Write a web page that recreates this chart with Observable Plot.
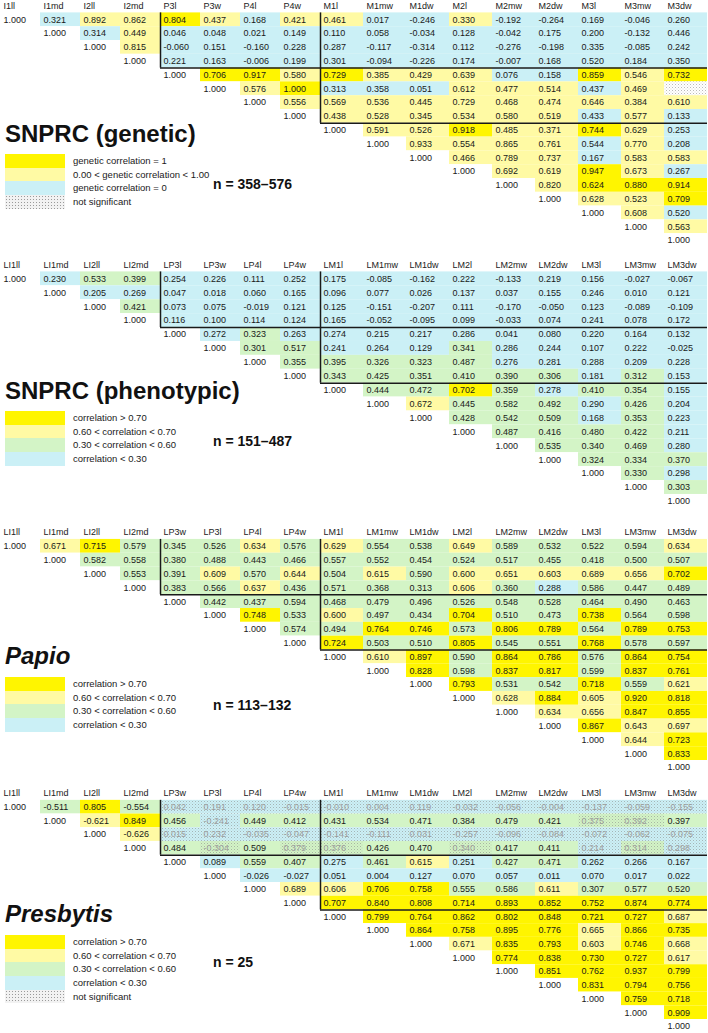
<!DOCTYPE html>
<html><head><meta charset="utf-8">
<script src="https://cdn.jsdelivr.net/npm/d3@7"></script>
<script src="https://cdn.jsdelivr.net/npm/@observablehq/plot@0.6"></script>
<style>
body{margin:0;background:#fff;font-family:Arial,"Liberation Sans",sans-serif;width:708px;height:1033px;overflow:hidden}
.panel{position:relative;width:708px;overflow:hidden}
.panel svg{display:block}
.title{position:absolute;left:5px;font-weight:bold;font-size:24px;color:#111;transform:translateY(-50%);white-space:nowrap;line-height:1}
.nlab{position:absolute;font-weight:bold;font-size:14px;color:#111;transform:translateY(-50%);white-space:nowrap;line-height:1}
.sw{position:absolute;left:5px;width:60px}
.lt{position:absolute;left:73px;font-size:9.5px;color:#1a1a1a;transform:translateY(-50%);white-space:nowrap;line-height:1}
.dots{background-color:#f2f2f2;background-image:radial-gradient(#9a9a9a 0.7px,transparent 0.9px);background-size:3px 3px}
</style></head><body><div id="chart"></div><script>
// ---------- data ----------
const genCols = ["I1ll","I1md","I2ll","I2md","P3l","P3w","P4l","P4w","M1l","M1mw","M1dw","M2l","M2mw","M2dw","M3l","M3mw","M3dw"];
const phenCols = ["LI1ll","LI1md","LI2ll","LI2md","LP3l","LP3w","LP4l","LP4w","LM1l","LM1mw","LM1dw","LM2l","LM2mw","LM2dw","LM3l","LM3mw","LM3dw"];
const primCols = ["LI1ll","LI1md","LI2ll","LI2md","LP3w","LP3l","LP4l","LP4w","LM1l","LM1mw","LM1dw","LM2l","LM2mw","LM2dw","LM3l","LM3mw","LM3dw"];

// SNPRC genetic (upper triangle, row by row; null = not significant)
const genValues = [
 [0.321,0.892,0.862,0.804,0.437,0.168,0.421,0.461,0.017,-0.246,0.330,-0.192,-0.264,0.169,-0.046,0.260],
 [0.314,0.449,0.046,0.048,0.021,0.149,0.110,0.058,-0.034,0.128,-0.042,0.175,0.200,-0.132,0.446],
 [0.815,-0.060,0.151,-0.160,0.228,0.287,-0.117,-0.314,0.112,-0.276,-0.198,0.335,-0.085,0.242],
 [0.221,0.163,-0.006,0.199,0.301,-0.094,-0.226,0.174,-0.007,0.168,0.520,0.184,0.350],
 [0.706,0.917,0.580,0.729,0.385,0.429,0.639,0.076,0.158,0.859,0.546,0.732],
 [0.576,1.000,0.313,0.358,0.051,0.612,0.477,0.514,0.437,0.469,null],
 [0.556,0.569,0.536,0.445,0.729,0.468,0.474,0.646,0.384,0.610],
 [0.438,0.528,0.345,0.534,0.580,0.519,0.433,0.577,0.133],
 [0.591,0.526,0.918,0.485,0.371,0.744,0.629,0.253],
 [0.933,0.554,0.865,0.761,0.544,0.770,0.208],
 [0.466,0.789,0.737,0.167,0.583,0.583],
 [0.692,0.619,0.947,0.673,0.267],
 [0.820,0.624,0.880,0.914],
 [0.628,0.523,0.709],
 [0.608,0.520],
 [0.563]
];
// categories: Y = genetic correlation 1, L = between 0 and 1, B = genetic correlation 0, N = not significant
const genCategories = [
 "BLLYLBLLBBLBBBBB",
 "BLBBBBBBBBBBBBB",
 "LBBBBBBBBBBBBB",
 "BBBBBBBBBBBBB",
 "YYLYLLLBBYLY",
 "LYBBBLLLBLN",
 "LLLLLLLLLL",
 "LLLLLLBLB",
 "LLYLLYLB",
 "LLLLBLB",
 "LLLBLL",
 "LLYLB",
 "LYYY",
 "LLY",
 "LB",
 "L"
];

const phenValues = [
 [0.230,0.533,0.399,0.254,0.226,0.111,0.252,0.175,-0.085,-0.162,0.222,-0.133,0.219,0.156,-0.027,-0.067],
 [0.205,0.269,0.047,0.018,0.060,0.165,0.096,0.077,0.026,0.137,0.037,0.155,0.246,0.010,0.121],
 [0.421,0.073,0.075,-0.019,0.121,0.125,-0.151,-0.207,0.111,-0.170,-0.050,0.123,-0.089,-0.109],
 [0.116,0.100,0.114,0.124,0.165,-0.052,-0.095,0.099,-0.033,0.074,0.241,0.078,0.172],
 [0.272,0.323,0.263,0.274,0.215,0.217,0.286,0.041,0.080,0.220,0.164,0.132],
 [0.301,0.517,0.241,0.264,0.129,0.341,0.286,0.244,0.107,0.222,-0.025],
 [0.355,0.395,0.326,0.323,0.487,0.276,0.281,0.288,0.209,0.228],
 [0.343,0.425,0.351,0.410,0.390,0.306,0.181,0.312,0.153],
 [0.444,0.472,0.702,0.359,0.278,0.410,0.354,0.155],
 [0.672,0.445,0.582,0.492,0.290,0.426,0.204],
 [0.428,0.542,0.509,0.168,0.353,0.223],
 [0.487,0.416,0.480,0.422,0.211],
 [0.535,0.340,0.469,0.280],
 [0.324,0.334,0.370],
 [0.330,0.298],
 [0.303]
];

const papioValues = [
 [0.671,0.715,0.579,0.345,0.526,0.634,0.576,0.629,0.554,0.538,0.649,0.589,0.532,0.522,0.594,0.634],
 [0.582,0.558,0.380,0.488,0.443,0.466,0.557,0.552,0.454,0.524,0.517,0.455,0.418,0.500,0.507],
 [0.553,0.391,0.609,0.570,0.644,0.504,0.615,0.590,0.600,0.651,0.603,0.689,0.656,0.702],
 [0.383,0.566,0.637,0.436,0.571,0.368,0.313,0.606,0.360,0.288,0.586,0.447,0.489],
 [0.442,0.437,0.594,0.468,0.479,0.496,0.526,0.548,0.528,0.464,0.490,0.463],
 [0.748,0.533,0.600,0.497,0.434,0.704,0.510,0.473,0.738,0.564,0.598],
 [0.574,0.494,0.764,0.746,0.573,0.806,0.789,0.564,0.789,0.753],
 [0.724,0.503,0.510,0.805,0.545,0.551,0.768,0.578,0.597],
 [0.610,0.897,0.590,0.864,0.786,0.576,0.864,0.754],
 [0.828,0.598,0.837,0.817,0.599,0.837,0.761],
 [0.793,0.531,0.542,0.718,0.559,0.621],
 [0.628,0.884,0.605,0.920,0.818],
 [0.634,0.656,0.847,0.855],
 [0.867,0.643,0.697],
 [0.644,0.723],
 [0.833]
];

const presbytisValues = [
 [-0.511,0.805,-0.554,0.042,0.191,0.120,-0.015,-0.010,0.004,0.119,-0.032,-0.056,-0.004,-0.137,-0.059,-0.155],
 [-0.621,0.849,0.456,-0.241,0.449,0.412,0.431,0.534,0.471,0.384,0.479,0.421,0.375,0.392,0.397],
 [-0.626,0.015,0.232,-0.035,-0.047,-0.141,-0.111,0.031,-0.257,-0.096,-0.084,-0.072,-0.062,-0.075],
 [0.484,-0.304,0.509,0.379,0.376,0.426,0.470,0.340,0.417,0.411,0.214,0.314,0.298],
 [0.089,0.559,0.407,0.275,0.461,0.615,0.251,0.427,0.471,0.262,0.266,0.167],
 [-0.026,-0.027,0.051,0.004,0.127,0.070,0.057,0.011,0.070,0.017,0.022],
 [0.689,0.606,0.706,0.758,0.555,0.586,0.611,0.307,0.577,0.520],
 [0.707,0.840,0.808,0.714,0.893,0.852,0.752,0.874,0.774],
 [0.799,0.764,0.862,0.802,0.848,0.721,0.727,0.687],
 [0.864,0.758,0.895,0.776,0.665,0.866,0.735],
 [0.671,0.835,0.793,0.603,0.746,0.668],
 [0.774,0.838,0.730,0.727,0.617],
 [0.851,0.762,0.937,0.799],
 [0.831,0.794,0.756],
 [0.759,0.718],
 [0.909]
];
// 1 = significant, 0 = not significant (rows not listed are all significant)
const presbytisSig = [
 [1,1,1,0,0,0,0,0,0,0,0,0,0,0,0,0],
 [1,1,1,0,1,1,1,1,1,1,1,1,0,0,1],
 [1,0,0,0,0,0,0,0,0,0,0,0,0,0],
 [1,0,1,0,0,1,1,0,1,1,0,0,0]
];

const genLegend = ["genetic correlation = 1","0.00 < genetic correlation < 1.00","genetic correlation = 0","not significant"];
const corrLegend = ["correlation > 0.70","0.60 < correlation < 0.70","0.30 < correlation < 0.60","correlation < 0.30"];
const titles = ["SNPRC (genetic)","SNPRC (phenotypic)","Papio","Presbytis"];
const sampleSizes = ["n = 358–576","n = 151–487","n = 113–132","n = 25"];

// ---------- styles ----------
const C = {high:"#fff500", mid:"#fffaa4", low:"#d3f4c6", none:"#cbf0f6"};
const genColor = {Y:C.high, L:C.mid, B:C.none, N:"#ffffff"};
function corrFill(v){const a=Math.abs(v);return a>=0.7?C.high:a>=0.6?C.mid:a>=0.3?C.low:C.none;}
const fmt = v => v.toFixed(3);

const panels = [
 {cols:genCols, values:genValues, kind:"gen", title:titles[0], italic:false, n:sampleSizes[0], legend:genLegend,
  legendFills:[C.high,C.mid,C.none,"dots"], height:258, r0:-1.4, step:13.8, titleY:134, legendTop:154, nY:184},
 {cols:phenCols, values:phenValues, kind:"corr", title:titles[1], italic:false, n:sampleSizes[1], legend:corrLegend,
  legendFills:[C.high,C.mid,C.low,C.none], height:267, r0:-0.5, step:13.91, titleY:133, legendTop:153, nY:183},
 {cols:primCols, values:papioValues, kind:"corr", title:titles[2], italic:true, n:sampleSizes[2], legend:corrLegend,
  legendFills:[C.high,C.mid,C.low,C.none], height:261, r0:0.1, step:13.82, titleY:131, legendTop:152, nY:180},
 {cols:primCols, values:presbytisValues, sig:presbytisSig, kind:"corr", title:titles[3], italic:true, n:sampleSizes[3],
  legend:[...corrLegend,"not significant"], legendFills:[C.high,C.mid,C.low,C.none,"dots"],
  height:247, r0:0.15, step:13.7, titleY:128, legendTop:149, nY:176}
];

const root = document.getElementById("chart");
panels.forEach((p, k) => {
  const n = p.cols.length;
  const cells = [];
  p.cols.forEach((c, i) => {
    cells.push({row:i+1, col:i, text:"1.000", fill:"#ffffff", sig:true});
    (p.values[i] || []).forEach((v, m) => {
      const j = i + 1 + m;
      let fill, sig = true, text = v == null ? "" : fmt(v);
      if (p.kind === "gen") {
        const code = genCategories[i][m];
        fill = genColor[code]; sig = code !== "N";
      } else {
        fill = corrFill(v);
        if (p.sig && p.sig[i]) sig = p.sig[i][m] === 1;
      }
      cells.push({row:i+1, col:j, text, fill, sig});
    });
  });
  const pm = p.cols.findIndex(c => /P/.test(c));
  const mm = p.cols.findIndex(c => /M/.test(c));
  const patId = "dots" + k;
  const headers = p.cols.map((c, i) => ({c, i}));
  const svg = Plot.plot({
    width: 708, height: p.height, margin: 0,
    style: {fontFamily: 'Arial,"Liberation Sans",sans-serif', background: "transparent"},
    x: {type: "linear", domain: [0, mm, n], range: [0, 320, 707], axis: null},
    y: {type: "linear", domain: [0, n + 1], range: [p.r0, p.r0 + (n + 1) * p.step], axis: null},
    color: {type: "identity"},
    marks: [
      Plot.rect(cells, {x1: "col", x2: d => d.col + 1, y1: "row", y2: d => d.row + 1, fill: "fill"}),
      Plot.rect(cells.filter(d => !d.sig), {x1: "col", x2: d => d.col + 1, y1: "row", y2: d => d.row + 1, fill: `url(#${patId})`}),
      Plot.text(cells, {x: "col", y: d => d.row + 0.5, text: "text", textAnchor: "start", dx: 3, fontSize: 9,
        fill: d => d.sig ? "#1a1a1a" : "#9c9c9c"}),
      Plot.text(headers, {x: "i", y: 0.5, text: "c", textAnchor: "start", dx: 3, fontSize: 9, fill: "#222"}),
      Plot.ruleX([pm], {y1: 1, y2: pm + 1, stroke: "#1a1a1a", strokeWidth: 1.5}),
      Plot.ruleY([pm + 1], {x1: pm, x2: n, stroke: "#1a1a1a", strokeWidth: 1.5}),
      Plot.ruleX([mm], {y1: 1, y2: mm + 1, stroke: "#1a1a1a", strokeWidth: 1.5}),
      Plot.ruleY([mm + 1], {x1: mm, x2: n, stroke: "#1a1a1a", strokeWidth: 1.5})
    ]
  });
  const pat = d3.select(svg).insert("defs", ":first-child").append("pattern")
    .attr("id", patId).attr("width", 3).attr("height", 3).attr("patternUnits", "userSpaceOnUse");
  pat.append("rect").attr("x", 0).attr("y", 0).attr("width", 1).attr("height", 1).attr("fill", "#8c8c8c").attr("fill-opacity", 0.6);
  pat.append("rect").attr("x", 1.5).attr("y", 1.5).attr("width", 1).attr("height", 1).attr("fill", "#8c8c8c").attr("fill-opacity", 0.35);

  const div = document.createElement("div");
  div.className = "panel";
  div.style.height = p.height + "px";
  div.appendChild(svg);
  const t = document.createElement("div");
  t.className = "title"; t.textContent = p.title; t.style.top = p.titleY + "px";
  if (p.italic) t.style.fontStyle = "italic";
  div.appendChild(t);
  const nl = document.createElement("div");
  nl.className = "nlab"; nl.textContent = p.n; nl.style.top = p.nY + "px"; nl.style.left = "213px";
  div.appendChild(nl);
  const ls = 13.7;
  p.legend.forEach((lab, q) => {
    const sw = document.createElement("div");
    sw.className = "sw";
    sw.style.top = (p.legendTop + q * ls) + "px";
    sw.style.height = ls + "px";
    if (p.legendFills[q] === "dots") sw.classList.add("dots"); else sw.style.background = p.legendFills[q];
    div.appendChild(sw);
    const lt = document.createElement("div");
    lt.className = "lt"; lt.textContent = lab;
    lt.style.top = (p.legendTop + q * ls + ls / 2) + "px";
    div.appendChild(lt);
  });
  root.appendChild(div);
});
</script></body></html>
